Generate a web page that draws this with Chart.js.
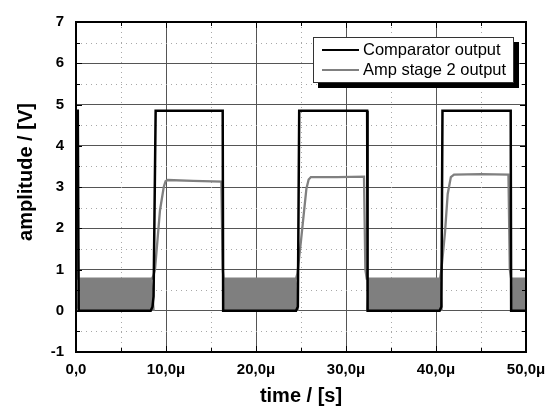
<!DOCTYPE html>
<html>
<head>
<meta charset="utf-8">
<script src="https://cdn.jsdelivr.net/npm/chart.js@4.4.1/dist/chart.umd.min.js"></script>
<style>
    html, body {
        margin: 0px;
        background-color: #ffffff;
    }
    #chartContainer {
        width: 546px;
        height: 408px;
    }
</style>
</head>
<body>
<div id="chartContainer">
    <canvas id="mainChart" width="546" height="408"></canvas>
</div>
<script>
// time axis in microseconds, amplitude in volts
const xTickValues = [0, 10, 20, 30, 40, 50];
const xTickLabels = ['0,0', '10,0\u03bc', '20,0\u03bc', '30,0\u03bc', '40,0\u03bc', '50,0\u03bc'];
const yTickValues = [-1, 0, 1, 2, 3, 4, 5, 6, 7];
const yTickLabels = ['-1', '0', '1', '2', '3', '4', '5', '6', '7'];

const seriesLabels = ['Comparator output', 'Amp stage 2 output'];

// comparator output (square wave)
const compTime = [0, 0.2, 0.3, 8.3, 8.5, 8.62, 8.85, 16.3, 16.35, 24.45, 24.65, 24.8, 32.35, 32.4, 40.4, 40.6, 40.72, 48.3, 48.35, 50];
const compVolt = [4.85, 4.85, 0, 0, 0.1, 0.35, 4.85, 4.85, 0, 0, 0.1, 4.85, 4.85, 0, 0, 0.1, 4.85, 4.85, 0, 0];

// amp stage 2 output, outline of the trace
const ampTime = [0, 0.1, 0.25, 8.45, 8.6, 8.78, 9.33, 9.75, 9.95, 10.2, 13.0, 16.15, 16.3, 16.4,
                 24.45, 24.6, 25.0, 25.6, 25.85, 26.1, 29.0, 32.0, 32.15, 32.3,
                 40.45, 40.6, 41.0, 41.3, 41.65, 42.0, 45.0, 48.05, 48.2, 48.35, 50];
const ampVolt = [3.1, 3.0, 0.78, 0.78, 0.85, 1.0, 2.43, 3.0, 3.14, 3.17, 3.15, 3.13, 1.0, 0.78,
                 0.78, 0.9, 1.7, 2.96, 3.18, 3.24, 3.24, 3.25, 1.0, 0.78,
                 0.78, 1.0, 1.9, 2.83, 3.24, 3.3, 3.31, 3.3, 1.0, 0.78, 0.78];

// amp stage 2 ripple while comparator is low (envelope of the dense oscillation)
const rippleTime = [0.2, 0.3, 8.4, 8.55, 8.7, 8.71, 16.3, 16.4, 16.5, 24.45, 24.6, 24.7, 24.71,
                    32.3, 32.4, 32.5, 40.45, 40.6, 40.7, 40.71, 48.3, 48.4, 48.5, 50];
const rippleVolt = [0.05, 0.78, 0.78, 0.4, 0, null, 0, 0.4, 0.78, 0.78, 0.4, 0, null,
                    0, 0.4, 0.78, 0.78, 0.4, 0, null, 0, 0.4, 0.78, 0.78];

const xMinor = [5, 15, 25, 35, 45];
const yMinor = [-0.5, 0.5, 1.5, 2.5, 3.5, 4.5, 5.5, 6.5];

function pts(xs, ys) {
    return xs.map((t, i) => ({x: t, y: ys[i]}));
}

const FONT = '"Liberation Sans", Arial, sans-serif';

const framePlugin = {
    id: 'frame',
    beforeDatasetsDraw(chart) {
        const ctx = chart.ctx;
        const a = chart.chartArea;
        const sx = chart.scales.x, sy = chart.scales.y;
        ctx.save();
        ctx.strokeStyle = '#a8a8a8';
        ctx.lineWidth = 1;
        ctx.setLineDash([1, 4]);
        xMinor.forEach(v => {
            const px = Math.round(sx.getPixelForValue(v)) + 0.5;
            ctx.beginPath(); ctx.moveTo(px, a.top); ctx.lineTo(px, a.bottom); ctx.stroke();
        });
        yMinor.forEach(v => {
            const py = Math.round(sy.getPixelForValue(v)) + 0.5;
            ctx.beginPath(); ctx.moveTo(a.left, py); ctx.lineTo(a.right, py); ctx.stroke();
        });
        ctx.restore();
    },
    afterDraw(chart) {
        const ctx = chart.ctx;
        const a = chart.chartArea;
        const sx = chart.scales.x, sy = chart.scales.y;
        ctx.save();
        // inner tick marks
        ctx.strokeStyle = '#000';
        ctx.lineWidth = 1;
        const tickX = (v, len) => {
            const px = Math.round(sx.getPixelForValue(v)) + 0.5;
            ctx.beginPath();
            ctx.moveTo(px, a.top); ctx.lineTo(px, a.top + len);
            ctx.moveTo(px, a.bottom); ctx.lineTo(px, a.bottom - len);
            ctx.stroke();
        };
        const tickY = (v, len) => {
            const py = Math.round(sy.getPixelForValue(v)) + 0.5;
            ctx.beginPath();
            ctx.moveTo(a.left, py); ctx.lineTo(a.left + len, py);
            ctx.moveTo(a.right, py); ctx.lineTo(a.right - len, py);
            ctx.stroke();
        };
        xTickValues.forEach(v => tickX(v, 6));
        xMinor.forEach(v => tickX(v, 4));
        yTickValues.forEach(v => tickY(v, 6));
        yMinor.forEach(v => tickY(v, 4));
        // frame
        ctx.lineWidth = 2;
        ctx.strokeRect(a.left, a.top, a.right - a.left, a.bottom - a.top);

        // axis titles
        ctx.fillStyle = '#000';
        ctx.font = 'bold 20px ' + FONT;
        ctx.textAlign = 'center';
        ctx.textBaseline = 'middle';
        ctx.fillText('time / [s]', (a.left + a.right) / 2, 396);
        ctx.save();
        ctx.translate(26, 172);
        ctx.rotate(-Math.PI / 2);
        ctx.fillText('amplitude / [V]', 0, 0);
        ctx.restore();

        // legend box with shadow
        const lx = 313, ly = 37, lw = 201, lh = 46;
        ctx.fillStyle = '#000';
        ctx.fillRect(lx + 5, ly + 5, lw, lh);
        ctx.fillStyle = '#fff';
        ctx.fillRect(lx, ly, lw, lh);
        ctx.strokeStyle = '#333';
        ctx.lineWidth = 1;
        ctx.strokeRect(lx + 0.5, ly + 0.5, lw - 1, lh - 1);
        ctx.font = '16.5px ' + FONT;
        ctx.textAlign = 'left';
        ctx.textBaseline = 'middle';
        chart.data.datasets.slice(0, 2).forEach((ds, i) => {
            const yy = ly + 13 + i * 20;
            ctx.strokeStyle = ds.borderColor;
            ctx.lineWidth = 2;
            ctx.beginPath(); ctx.moveTo(322, yy); ctx.lineTo(359, yy); ctx.stroke();
            ctx.fillStyle = '#000';
            ctx.fillText(ds.label, 363, yy);
        });
        ctx.restore();
    }
};

const ctx = document.getElementById('mainChart').getContext('2d');
const chart = new Chart(ctx, {
    type: 'line',
    data: {
        datasets: [
            {
                label: seriesLabels[0],
                data: pts(compTime, compVolt),
                borderColor: '#000000',
                borderWidth: 2.5,
                pointRadius: 0,
                tension: 0,
                fill: false
            },
            {
                label: seriesLabels[1],
                data: pts(ampTime, ampVolt),
                borderColor: '#808080',
                borderWidth: 2.3,
                pointRadius: 0,
                tension: 0,
                fill: false
            },
            {
                label: 'ripple',
                data: pts(rippleTime, rippleVolt),
                borderColor: '#7f7f7f',
                backgroundColor: '#7f7f7f',
                borderWidth: 1,
                pointRadius: 0,
                tension: 0,
                spanGaps: false,
                fill: 'origin'
            }
        ]
    },
    options: {
        responsive: false,
        animation: false,
        layout: {padding: {top: 22, right: 20, left: 0, bottom: 0}},
        plugins: {
            legend: {display: false},
            tooltip: {enabled: false}
        },
        scales: {
            x: {
                type: 'linear',
                min: 0,
                max: 50,
                afterFit(scale) {
                    scale.height = 56;
                    scale.paddingLeft = 0;
                    scale.paddingRight = 0;
                },
                afterBuildTicks(scale) { scale.ticks = xTickValues.map(v => ({value: v})); },
                ticks: {
                    padding: 9,
                    color: '#000',
                    font: {family: FONT, size: 15, weight: 'bold'},
                    maxRotation: 0,
                    callback: (v) => xTickLabels[xTickValues.indexOf(v)]
                },
                grid: {color: '#555555', lineWidth: 1, drawTicks: false},
                border: {display: false}
            },
            y: {
                type: 'linear',
                min: -1,
                max: 7,
                afterFit(scale) {
                    scale.width = 76;
                    scale.paddingTop = 0;
                    scale.paddingBottom = 0;
                },
                afterBuildTicks(scale) { scale.ticks = yTickValues.map(v => ({value: v})); },
                ticks: {
                    padding: 12,
                    color: '#000',
                    font: {family: FONT, size: 15, weight: 'bold'},
                    callback: (v) => yTickLabels[yTickValues.indexOf(v)]
                },
                grid: {color: '#555555', lineWidth: 1, drawTicks: false},
                border: {display: false}
            }
        }
    },
    plugins: [framePlugin]
});
</script>
</body>
</html>
